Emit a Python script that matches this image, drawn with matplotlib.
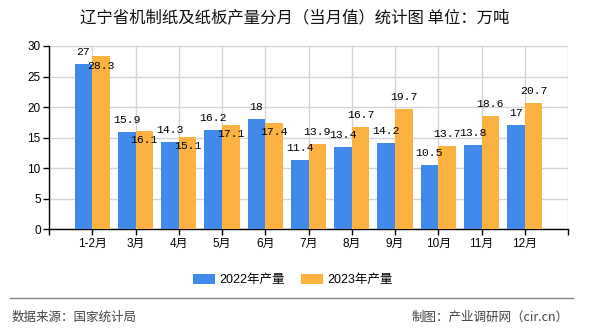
import matplotlib
matplotlib.use("Agg")
import matplotlib.pyplot as plt
from matplotlib.lines import Line2D
import numpy as np

plt.rcParams['font.family'] = ['Liberation Sans', 'Noto Sans CJK SC', 'DejaVu Sans']

months = ['1-2月', '3月', '4月', '5月', '6月', '7月', '8月', '9月', '10月', '11月', '12月']
prod_2022 = [27, 15.9, 14.3, 16.2, 18, 11.4, 13.4, 14.2, 10.5, 13.8, 17]
prod_2023 = [28.3, 16.1, 15.1, 17.1, 17.4, 13.9, 16.7, 19.7, 13.7, 18.6, 20.7]
series_names = ['2022年产量', '2023年产量']

BLUE = '#418AEB'
ORANGE = '#FBB240'

fig = plt.figure(figsize=(5.9, 3.3), dpi=100)
ax = fig.add_axes([49 / 590, 1 - 229.3 / 330, (568 - 49) / 590, (229.3 - 46) / 330])

x = np.arange(len(months))
w = 0.41
ax.bar(x - w / 2, prod_2022, width=w, color=BLUE, label=series_names[0], zorder=3)
ax.bar(x + w / 2, prod_2023, width=w, color=ORANGE, label=series_names[1], zorder=3)

ax.set_xlim(-1, len(months))
ax.set_ylim(0, 30)
ax.set_yticks(np.arange(0, 31, 5))
ax.set_xticks(np.arange(-1, len(months) + 1))
ax.set_xticklabels([''] + months + [''])

ax.grid(True, color='#d4d4d4', linewidth=1, zorder=0)
for side in ('top', 'right'):
    ax.spines[side].set_visible(False)
for side in ('left', 'bottom'):
    ax.spines[side].set_color('black')
    ax.spines[side].set_linewidth(1)
ax.tick_params(axis='both', direction='out', length=4, width=1, colors='black',
               labelsize=8.5, pad=2)

label_font = dict(family=['Liberation Mono', 'DejaVu Sans Mono'], fontsize=8.2, color='black')
for xi, v in zip(x, prod_2022):
    ax.annotate(f'{v:g}', (xi - w / 2, v), xytext=(0, 5), textcoords='offset points',
                ha='center', va='bottom', zorder=5, **label_font)
for xi, v, b in zip(x, prod_2023, prod_2022):
    # keep the 2023 label clear of the 2022 label when the bars are close in height
    if v - b < 2.0:
        ax.annotate(f'{v:g}', (xi + w / 2, v), xytext=(0, -3), textcoords='offset points',
                    ha='center', va='top', zorder=5, **label_font)
    else:
        ax.annotate(f'{v:g}', (xi + w / 2, v), xytext=(0, 5), textcoords='offset points',
                    ha='center', va='bottom', zorder=5, **label_font)

fig.text(0.5, 1 - 18 / 330, '辽宁省机制纸及纸板产量分月（当月值）统计图 单位：万吨',
         ha='center', va='center', fontsize=11.8, color='#111111',
         family=['Noto Sans CJK SC', 'DejaVu Sans'])

handles, labels = ax.get_legend_handles_labels()
fig.legend(handles, labels, loc='center', bbox_to_anchor=(0.497, 1 - 280 / 330), ncol=2,
           frameon=False, handlelength=1.7, handleheight=0.8,
           handletextpad=0.4, columnspacing=1.3,
           prop={'family': ['Liberation Sans', 'Noto Sans CJK SC'], 'size': 9})

fig.add_artist(Line2D([10 / 590, 573 / 590], [1 - 298 / 330] * 2, transform=fig.transFigure,
                      color='#888888', linewidth=1))
fig.text(12 / 590, 1 - 317 / 330, '数据来源：国家统计局', ha='left', va='center',
         fontsize=9, color='#444444', family=['Noto Sans CJK SC', 'DejaVu Sans'])
fig.text(569 / 590, 1 - 317 / 330, '制图：产业调研网（cir.cn）', ha='right', va='center',
         fontsize=9, color='#444444', family=['Noto Sans CJK SC', 'DejaVu Sans'])

fig.savefig('out.png', dpi=100)
